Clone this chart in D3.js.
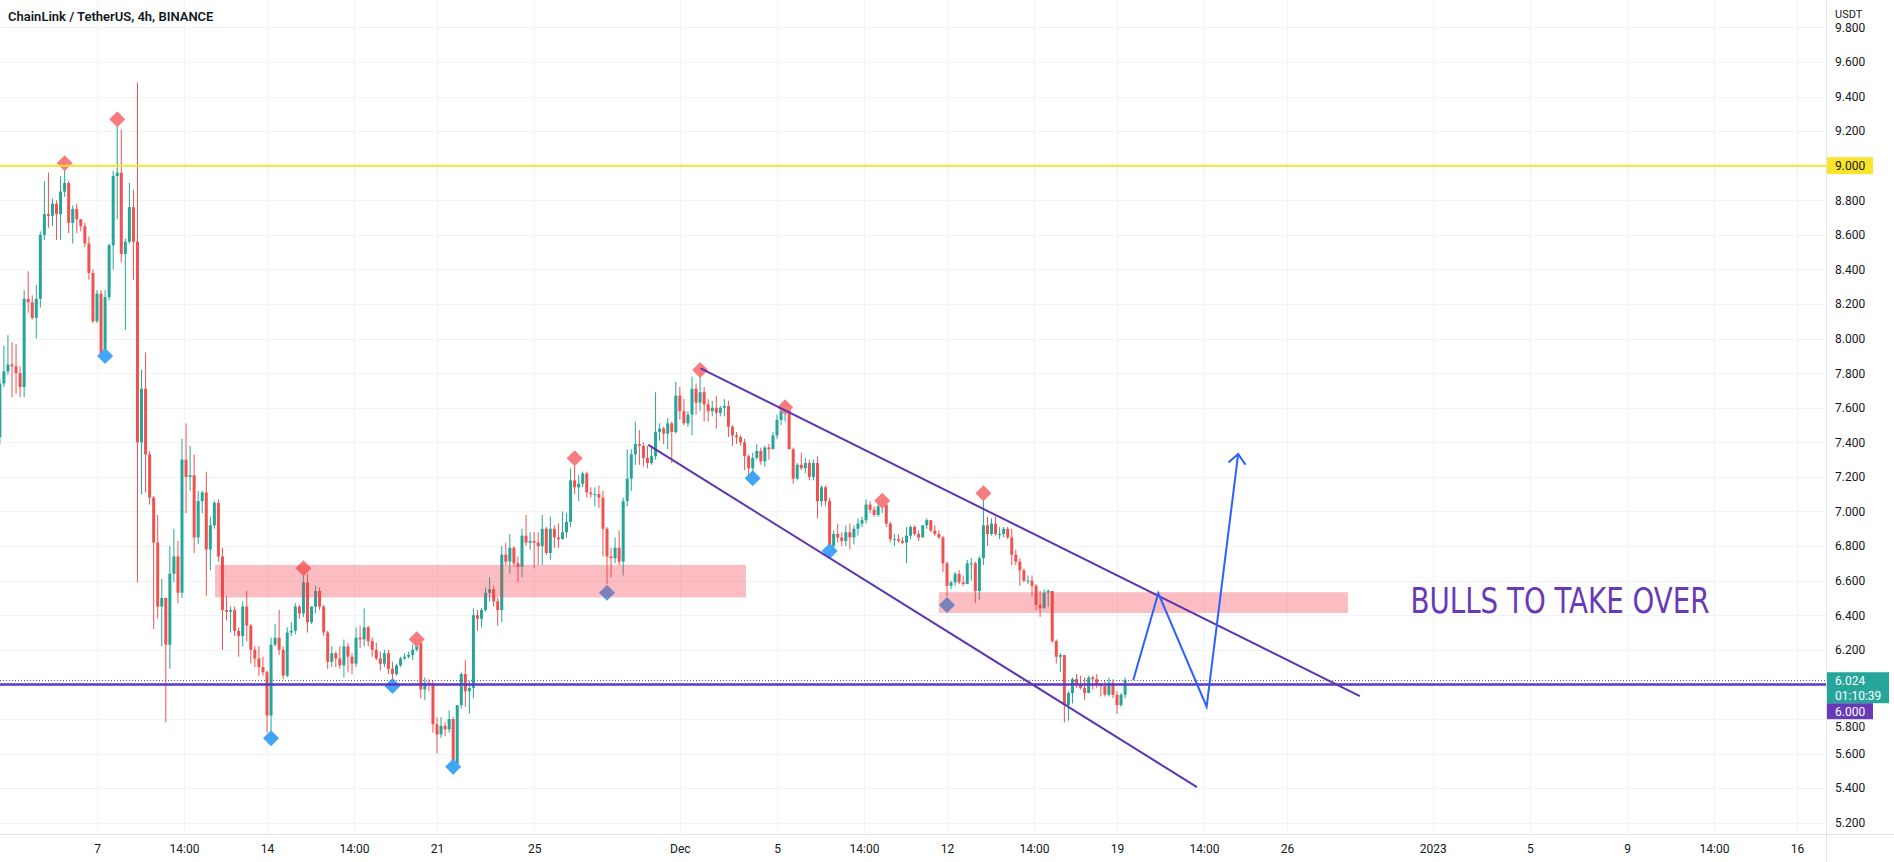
<!DOCTYPE html>
<html><head><meta charset="utf-8">
<script src="https://cdn.jsdelivr.net/npm/d3@7"></script>
<style>
html,body{margin:0;padding:0;background:#fff;}
svg{display:block;font-family:Roboto,"Noto Sans",sans-serif;}
</style></head><body>
<svg id="chart" width="1894" height="862"></svg>
<script>
// ---------- DATA ----------
const candleStart = "2022-11-03T00:00:00Z";
const candleHours = 4;
const firstOpen = 7.43;
const closes = [7.74,7.81,7.85,7.84,7.80,7.72,8.23,8.21,8.12,8.23,8.60,8.72,8.71,8.78,8.72,8.85,8.90,8.67,8.75,8.69,
8.65,8.55,8.38,8.10,8.26,7.91,8.24,8.54,8.94,8.96,8.49,8.56,8.76,8.56,7.40,7.71,7.33,7.08,6.82,6.45,
6.50,6.23,6.64,6.74,6.53,7.30,7.20,7.21,6.85,7.06,7.11,6.78,6.92,7.05,6.74,6.43,6.42,6.43,6.31,6.28,
6.45,6.34,6.20,6.15,6.10,6.07,5.82,6.23,6.27,6.20,6.05,6.30,6.31,6.45,6.41,6.59,6.36,6.45,6.54,6.45,
6.30,6.13,6.18,6.15,6.11,6.22,6.16,6.12,6.27,6.26,6.33,6.25,6.20,6.15,6.12,6.18,6.09,6.06,6.11,6.15,
6.16,6.17,6.20,6.24,5.97,6.01,6.00,5.77,5.71,5.76,5.74,5.80,5.54,5.88,6.06,5.96,5.98,6.40,6.38,6.43,
6.53,6.55,6.48,6.43,6.75,6.71,6.79,6.70,6.68,6.86,6.82,6.83,6.82,6.80,6.90,6.76,6.90,6.85,6.84,6.88,
6.94,7.18,7.14,7.16,7.22,7.11,7.10,7.10,7.08,6.90,6.74,6.73,6.79,6.71,7.06,7.19,7.33,7.39,7.38,7.31,
7.28,7.32,7.46,7.48,7.45,7.51,7.46,7.67,7.58,7.51,7.56,7.71,7.63,7.69,7.62,7.58,7.60,7.57,7.60,7.61,
7.49,7.44,7.43,7.40,7.32,7.25,7.31,7.35,7.29,7.37,7.36,7.44,7.53,7.58,7.59,7.36,7.19,7.27,7.25,7.28,
7.20,7.28,7.06,7.14,7.06,6.80,6.87,6.85,6.83,6.88,6.85,6.90,6.93,6.95,7.04,7.01,6.98,7.03,7.04,6.93,
6.84,6.84,6.83,6.82,6.86,6.91,6.87,6.85,6.92,6.95,6.89,6.87,6.85,6.70,6.57,6.59,6.64,6.59,6.58,6.70,
6.70,6.54,6.73,6.92,6.87,6.93,6.87,6.87,6.90,6.85,6.75,6.71,6.66,6.60,6.60,6.57,6.46,6.44,6.53,6.54,
6.25,6.16,6.17,5.88,5.95,6.03,6.00,5.98,5.95,6.04,6.03,6.00,5.99,5.94,6.01,5.94,5.88,5.94,6.024];
const highs = [7.77,7.96,8.02,7.98,7.97,7.84,8.28,8.39,8.25,8.31,8.62,8.91,8.96,8.81,8.80,8.94,8.99,8.91,8.77,8.78,
8.69,8.67,8.59,8.40,8.28,8.28,8.28,8.55,8.97,9.26,9.21,8.58,8.90,8.86,9.48,7.82,7.92,7.35,7.09,6.98,
6.61,6.50,6.80,6.90,6.83,7.42,7.51,7.38,7.33,7.12,7.12,7.23,6.97,7.06,7.07,6.79,6.51,6.45,6.45,6.33,
6.48,6.54,6.35,6.22,6.22,6.16,6.08,6.27,6.35,6.43,6.22,6.33,6.36,6.47,6.46,6.68,6.64,6.45,6.57,6.56,
6.46,6.31,6.22,6.19,6.22,6.26,6.24,6.18,6.33,6.34,6.44,6.34,6.27,6.24,6.19,6.20,6.20,6.13,6.12,6.16,
6.18,6.19,6.23,6.26,6.24,6.04,6.03,6.02,5.81,5.81,5.78,5.85,5.81,5.88,6.07,6.14,6.02,6.44,6.43,6.44,
6.56,6.62,6.57,6.50,6.80,6.82,6.87,6.80,6.74,6.90,6.98,6.88,6.88,6.88,6.98,6.91,6.97,6.92,6.93,7.00,
6.99,7.25,7.27,7.21,7.23,7.23,7.14,7.14,7.15,7.12,6.91,6.79,6.85,6.89,7.08,7.36,7.36,7.52,7.47,7.40,
7.38,7.38,7.69,7.51,7.49,7.54,7.52,7.75,7.72,7.65,7.58,7.78,7.74,7.82,7.72,7.65,7.64,7.67,7.61,7.65,
7.64,7.50,7.46,7.44,7.42,7.33,7.34,7.39,7.37,7.38,7.39,7.46,7.56,7.60,7.61,7.59,7.37,7.28,7.34,7.31,
7.30,7.30,7.32,7.15,7.15,7.08,6.89,6.93,6.88,6.92,6.93,6.92,6.96,6.97,7.07,7.06,7.03,7.05,7.06,7.05,
6.94,6.87,6.87,6.85,6.91,6.92,6.92,6.89,6.92,6.96,6.95,6.92,6.89,6.86,6.71,6.60,6.65,6.66,6.63,6.72,
6.73,6.71,6.74,7.08,6.97,6.96,6.97,6.91,6.91,6.91,6.90,6.78,6.73,6.67,6.63,6.63,6.58,6.54,6.55,6.55,
6.54,6.26,6.18,6.17,5.96,6.04,6.06,6.05,6.04,6.05,6.05,6.06,6.01,6.02,6.04,6.03,5.96,5.95,6.04];
const lows = [7.39,7.72,7.79,7.66,7.68,7.66,7.66,8.15,8.11,8.00,8.18,8.57,8.64,8.65,8.57,8.57,8.82,8.61,8.55,8.61,
8.62,8.53,8.34,8.09,8.09,7.90,7.90,8.22,8.40,8.69,8.44,8.05,8.55,8.34,6.59,7.10,7.11,7.04,6.32,6.38,
6.22,5.78,6.09,6.59,6.47,6.50,6.99,7.12,6.76,6.81,6.99,6.51,6.66,6.90,6.71,6.20,6.37,6.30,6.28,6.16,
6.22,6.25,6.12,6.10,6.05,6.05,5.72,5.71,6.22,6.17,6.03,6.04,6.28,6.29,6.38,6.39,6.30,6.35,6.41,6.43,
6.28,6.09,6.10,6.10,6.09,6.04,6.07,6.06,6.10,6.21,6.22,6.22,6.16,6.14,6.08,6.10,6.06,6.02,6.05,6.10,
6.14,6.15,6.14,6.19,5.92,5.91,5.96,5.72,5.60,5.69,5.70,5.72,5.52,5.60,5.86,5.87,5.83,5.92,6.31,6.33,
6.42,6.48,6.45,6.34,6.36,6.69,6.64,6.68,6.59,6.62,6.80,6.78,6.67,6.69,6.69,6.75,6.72,6.79,6.79,6.84,
6.85,6.91,7.10,7.06,7.14,7.08,7.08,7.03,7.02,6.74,6.58,6.62,6.70,6.69,6.63,7.03,7.12,7.27,7.27,7.26,
7.25,7.27,7.30,7.41,7.39,7.36,7.28,7.45,7.53,7.50,7.49,7.44,7.56,7.58,7.52,7.52,7.55,7.48,7.55,7.55,
7.43,7.38,7.39,7.38,7.24,7.21,7.22,7.30,7.27,7.26,7.30,7.36,7.42,7.50,7.52,7.36,7.16,7.18,7.24,7.22,
7.18,7.18,6.96,7.03,7.03,6.76,6.78,6.82,6.80,6.80,6.78,6.81,6.86,6.91,6.93,6.99,6.97,6.97,6.99,6.91,
6.82,6.80,6.82,6.81,6.70,6.84,6.86,6.83,6.85,6.90,6.88,6.86,6.84,6.65,6.51,6.55,6.57,6.58,6.57,6.58,
6.60,6.47,6.49,6.69,6.80,6.86,6.86,6.84,6.85,6.84,6.69,6.69,6.57,6.59,6.58,6.51,6.43,6.39,6.44,6.45,
6.24,6.12,6.07,5.78,5.79,5.89,5.98,5.97,5.91,5.95,5.97,5.98,5.93,5.93,5.93,5.92,5.83,5.87,5.92];

const priceTicks = [5.2,5.4,5.6,5.8,6.0,6.2,6.4,6.6,6.8,7.0,7.2,7.4,7.6,7.8,8.0,8.2,8.4,8.6,8.8,9.0,9.2,9.4,9.6,9.8];
const timeTicks = ["2022-11-07T00:00:00Z","2022-11-10T14:00:00Z","2022-11-14T00:00:00Z","2022-11-17T14:00:00Z",
"2022-11-21T00:00:00Z","2022-11-25T00:00:00Z","2022-12-01T00:00:00Z","2022-12-05T00:00:00Z","2022-12-08T14:00:00Z",
"2022-12-12T00:00:00Z","2022-12-15T14:00:00Z","2022-12-19T00:00:00Z","2022-12-22T14:00:00Z","2022-12-26T00:00:00Z",
"2023-01-01T00:00:00Z","2023-01-05T00:00:00Z","2023-01-09T00:00:00Z","2023-01-12T14:00:00Z","2023-01-16T00:00:00Z"];
const timeLabels = ["7","14:00","14","14:00","21","25","Dec","5","14:00","12","14:00","19","14:00","26","2023","5","9","14:00","16"];

const topMarkerIdx = [16,29,75,103,142,173,194,218,243];
const topMarkerPrice = [9.014,9.268,6.672,6.261,7.308,7.818,7.603,7.062,7.105];
const bottomMarkerIdx = [26,67,97,112,150,186,205,234];
const bottomMarkerPrice = [7.899,5.688,5.991,5.524,6.530,7.192,6.771,6.459];

const zoneStart = ["2022-11-11T20:40:00Z","2022-12-11T16:00:00Z"];
const zoneEnd = ["2022-12-03T17:20:00Z","2022-12-28T12:15:00Z"];
const zoneLow = [6.503,6.413];
const zoneHigh = [6.691,6.533];

const upperChannelDates = ["2022-12-01T20:30:00Z","2022-12-29T00:00:00Z"];
const upperChannelPrices = [7.828,5.932];
const lowerChannelDates = ["2022-11-29T16:50:00Z","2022-12-22T07:00:00Z"];
const lowerChannelPrices = [7.385,5.406];

const arrowDates = ["2022-12-19T16:05:00Z","2022-12-20T16:50:00Z","2022-12-22T16:35:00Z","2022-12-23T23:45:00Z"];
const arrowPrices = [6.025,6.527,5.871,7.333];

const resistanceLevel = 9.0;
const supportLevel = 6.0;
const lastPrice = 6.024;
const countdown = "01:10:39";
const annotation = "BULLS TO TAKE OVER";
const annotationDate = "2022-12-31T02:00:00Z";
const annotationPrice = 6.41;
const title = "ChainLink / TetherUS, 4h, BINANCE";

// ---------- LAYOUT ----------
const W = 1894, H = 862, plotR = 1826, plotB = 834;
const svg = d3.select("#chart");
const parse = s => new Date(s);
const fmt = d3.format(".3f");

const x = d3.scaleUtc()
  .domain([parse("2022-11-07T00:00:00Z"), parse("2023-01-16T00:00:00Z")])
  .range([97, 1797]);
const y = d3.scaleLinear().domain([5.2, 9.0]).range([822.7, 165.7]);

const t0 = parse(candleStart);
const candles = closes.map((c, i) => ({
  t: d3.utcHour.offset(t0, candleHours * i),
  o: i === 0 ? firstOpen : closes[i - 1],
  h: highs[i], l: lows[i], c: c
}));

svg.append("rect").attr("width", W).attr("height", H).attr("fill", "#ffffff");

const defs = svg.append("defs");
defs.append("clipPath").attr("id", "plotClip")
  .append("rect").attr("x", 0).attr("y", 0).attr("width", plotR).attr("height", plotB);

// grid
const grid = svg.append("g").attr("clip-path", "url(#plotClip)");
grid.selectAll("line.h").data(priceTicks).join("line")
  .attr("x1", 0).attr("x2", plotR)
  .attr("y1", d => Math.round(y(d)) + 0.5).attr("y2", d => Math.round(y(d)) + 0.5)
  .attr("stroke", "#f0f3fa").attr("stroke-width", 1);
grid.selectAll("line.v").data(timeTicks).join("line")
  .attr("y1", 0).attr("y2", plotB)
  .attr("x1", d => Math.round(x(parse(d))) + 0.5).attr("x2", d => Math.round(x(parse(d))) + 0.5)
  .attr("stroke", "#f0f3fa").attr("stroke-width", 1);

const plot = svg.append("g").attr("clip-path", "url(#plotClip)");

// candles
const up = "#26a69a", down = "#ef5350";
const cg = plot.append("g");
cg.selectAll("line").data(candles).join("line")
  .attr("x1", d => x(d.t)).attr("x2", d => x(d.t))
  .attr("y1", d => y(Math.max(d.h, d.o, d.c))).attr("y2", d => y(Math.min(d.l, d.o, d.c)))
  .attr("stroke", d => d.c >= d.o ? up : down).attr("stroke-width", 1);
cg.selectAll("rect").data(candles).join("rect")
  .attr("x", d => x(d.t) - 1.5).attr("width", 3)
  .attr("y", d => y(Math.max(d.o, d.c)))
  .attr("height", d => Math.max(1, Math.abs(y(d.o) - y(d.c))))
  .attr("fill", d => d.c >= d.o ? up : down);

// markers
const diamond = (cx, cy, r) => `M${cx},${cy - r}L${cx + r},${cy}L${cx},${cy + r}L${cx - r},${cy}Z`;
plot.selectAll("path.top").data(topMarkerIdx).join("path")
  .attr("d", (d, i) => diamond(x(candles[d].t), y(topMarkerPrice[i]), 8))
  .attr("fill", "#f77c80");
plot.selectAll("path.bot").data(bottomMarkerIdx).join("path")
  .attr("d", (d, i) => diamond(x(candles[d].t), y(bottomMarkerPrice[i]), 8))
  .attr("fill", "#42a5f5");

// zones
plot.selectAll("rect.zone").data(zoneStart).join("rect")
  .attr("x", (d, i) => x(parse(d)))
  .attr("width", (d, i) => x(parse(zoneEnd[i])) - x(parse(d)))
  .attr("y", (d, i) => y(zoneHigh[i]))
  .attr("height", (d, i) => y(zoneLow[i]) - y(zoneHigh[i]))
  .attr("fill", "rgba(242,54,69,0.33)");

// horizontal levels
plot.append("line").attr("x1", 0).attr("x2", plotR)
  .attr("y1", y(resistanceLevel)).attr("y2", y(resistanceLevel))
  .attr("stroke", "#f5e52e").attr("stroke-width", 2);
plot.append("line").attr("x1", 0).attr("x2", plotR)
  .attr("y1", Math.round(y(lastPrice)) + 0.5).attr("y2", Math.round(y(lastPrice)) + 0.5)
  .attr("stroke", "#3f6e8a").attr("stroke-width", 1).attr("stroke-dasharray", "1,2");
plot.append("line").attr("x1", 0).attr("x2", plotR)
  .attr("y1", y(supportLevel)).attr("y2", y(supportLevel))
  .attr("stroke", "#5e35c8").attr("stroke-width", 2.5);

// channel
const lineGen = d3.line().x(d => x(parse(d[0]))).y(d => y(d[1]));
plot.append("path").attr("d", lineGen(upperChannelDates.map((d, i) => [d, upperChannelPrices[i]])))
  .attr("fill", "none").attr("stroke", "#5e35b1").attr("stroke-width", 2);
plot.append("path").attr("d", lineGen(lowerChannelDates.map((d, i) => [d, lowerChannelPrices[i]])))
  .attr("fill", "none").attr("stroke", "#5e35b1").attr("stroke-width", 2);

// arrow path
const arrowPts = arrowDates.map((d, i) => [d, arrowPrices[i]]);
plot.append("path").attr("d", lineGen(arrowPts))
  .attr("fill", "none").attr("stroke", "#2962ff").attr("stroke-width", 2).attr("stroke-linejoin", "miter");
{
  const n = arrowPts.length;
  const tx = x(parse(arrowPts[n - 1][0])), ty = y(arrowPts[n - 1][1]);
  const px = x(parse(arrowPts[n - 2][0])), py = y(arrowPts[n - 2][1]);
  const ang = Math.atan2(py - ty, px - tx);
  const len = 13, spread = 0.72;
  const w1 = [tx + len * Math.cos(ang - spread), ty + len * Math.sin(ang - spread)];
  const w2 = [tx + len * Math.cos(ang + spread), ty + len * Math.sin(ang + spread)];
  plot.append("path").attr("d", `M${w1[0]},${w1[1]}L${tx},${ty}L${w2[0]},${w2[1]}`)
    .attr("fill", "none").attr("stroke", "#2962ff").attr("stroke-width", 2);
}

// annotation text
plot.append("text").attr("x", x(parse(annotationDate))).attr("y", y(annotationPrice))
  .attr("font-family", "'DejaVu Sans', sans-serif").attr("font-stretch", "condensed")
  .attr("font-size", 36).attr("fill", "#673ab7")
  .attr("textLength", 299).attr("lengthAdjust", "spacingAndGlyphs")
  .text(annotation);

// frame
svg.append("line").attr("x1", plotR + 0.5).attr("x2", plotR + 0.5).attr("y1", 0).attr("y2", H)
  .attr("stroke", "#e0e3eb");
svg.append("line").attr("x1", 0).attr("x2", W).attr("y1", plotB + 0.5).attr("y2", plotB + 0.5)
  .attr("stroke", "#e0e3eb");

// badge geometry
const lastTop = y(lastPrice) - 8, lastH = 31;
const supTop = lastTop + lastH, supH = 16;

// price axis (labels hidden under badges are not drawn; a label that would touch a badge is nudged below it)
const covered = [resistanceLevel, supportLevel];
const axisTicks = priceTicks.filter(v => !covered.some(c => Math.abs(c - v) < 1e-9));
const yAxis = d3.axisRight(y).tickValues(axisTicks).tickFormat(fmt).tickSize(0).tickPadding(9);
const ya = svg.append("g").attr("transform", `translate(${plotR},0)`).call(yAxis);
ya.select(".domain").remove();
ya.selectAll("text").attr("font-size", 12).attr("fill", "#131722").attr("font-family", "Roboto, sans-serif");
ya.selectAll(".tick").each(function (d) {
  const yy = y(d);
  if (yy - 6 < supTop + supH && yy + 6 > lastTop) {
    d3.select(this).attr("transform", `translate(0,${supTop + supH + 7.5})`);
  }
});

// time axis
const xAxis = d3.axisBottom(x).tickValues(timeTicks.map(parse))
  .tickFormat((d, i) => timeLabels[i]).tickSize(0).tickPadding(10);
const xa = svg.append("g").attr("transform", `translate(0,${plotB})`).call(xAxis);
xa.select(".domain").remove();
xa.selectAll("text").attr("font-size", 12).attr("fill", "#131722").attr("font-family", "Roboto, sans-serif");

// USDT label
svg.append("rect").attr("x", plotR + 1).attr("y", 0).attr("width", W - plotR - 1).attr("height", 20).attr("fill", "#fff");
svg.append("text").attr("x", 1835).attr("y", 17.5).attr("font-size", 11).attr("fill", "#131722").text("USDT");

// badges
function badge(yTop, h, w, fill, lines, txtFill) {
  const g = svg.append("g");
  g.append("rect").attr("x", plotR + 1).attr("y", yTop).attr("width", w).attr("height", h).attr("fill", fill);
  lines.forEach((s, i) => {
    g.append("text").attr("x", 1835).attr("y", yTop + 12.5 + i * 15)
      .attr("font-size", 12).attr("fill", txtFill).text(s);
  });
}
badge(y(resistanceLevel) - 8.5, 17, 46, "#f9e52b", [fmt(resistanceLevel)], "#131722");
badge(lastTop, lastH, 62, "#26a69a", [fmt(lastPrice), countdown], "#ffffff");
badge(supTop, supH, 46, "#673ab7", [fmt(supportLevel)], "#ffffff");

// title
svg.append("text").attr("x", 8).attr("y", 20.7).attr("font-size", 13).attr("font-weight", 600)
  .attr("fill", "#131722").text(title);
</script>
</body></html>
